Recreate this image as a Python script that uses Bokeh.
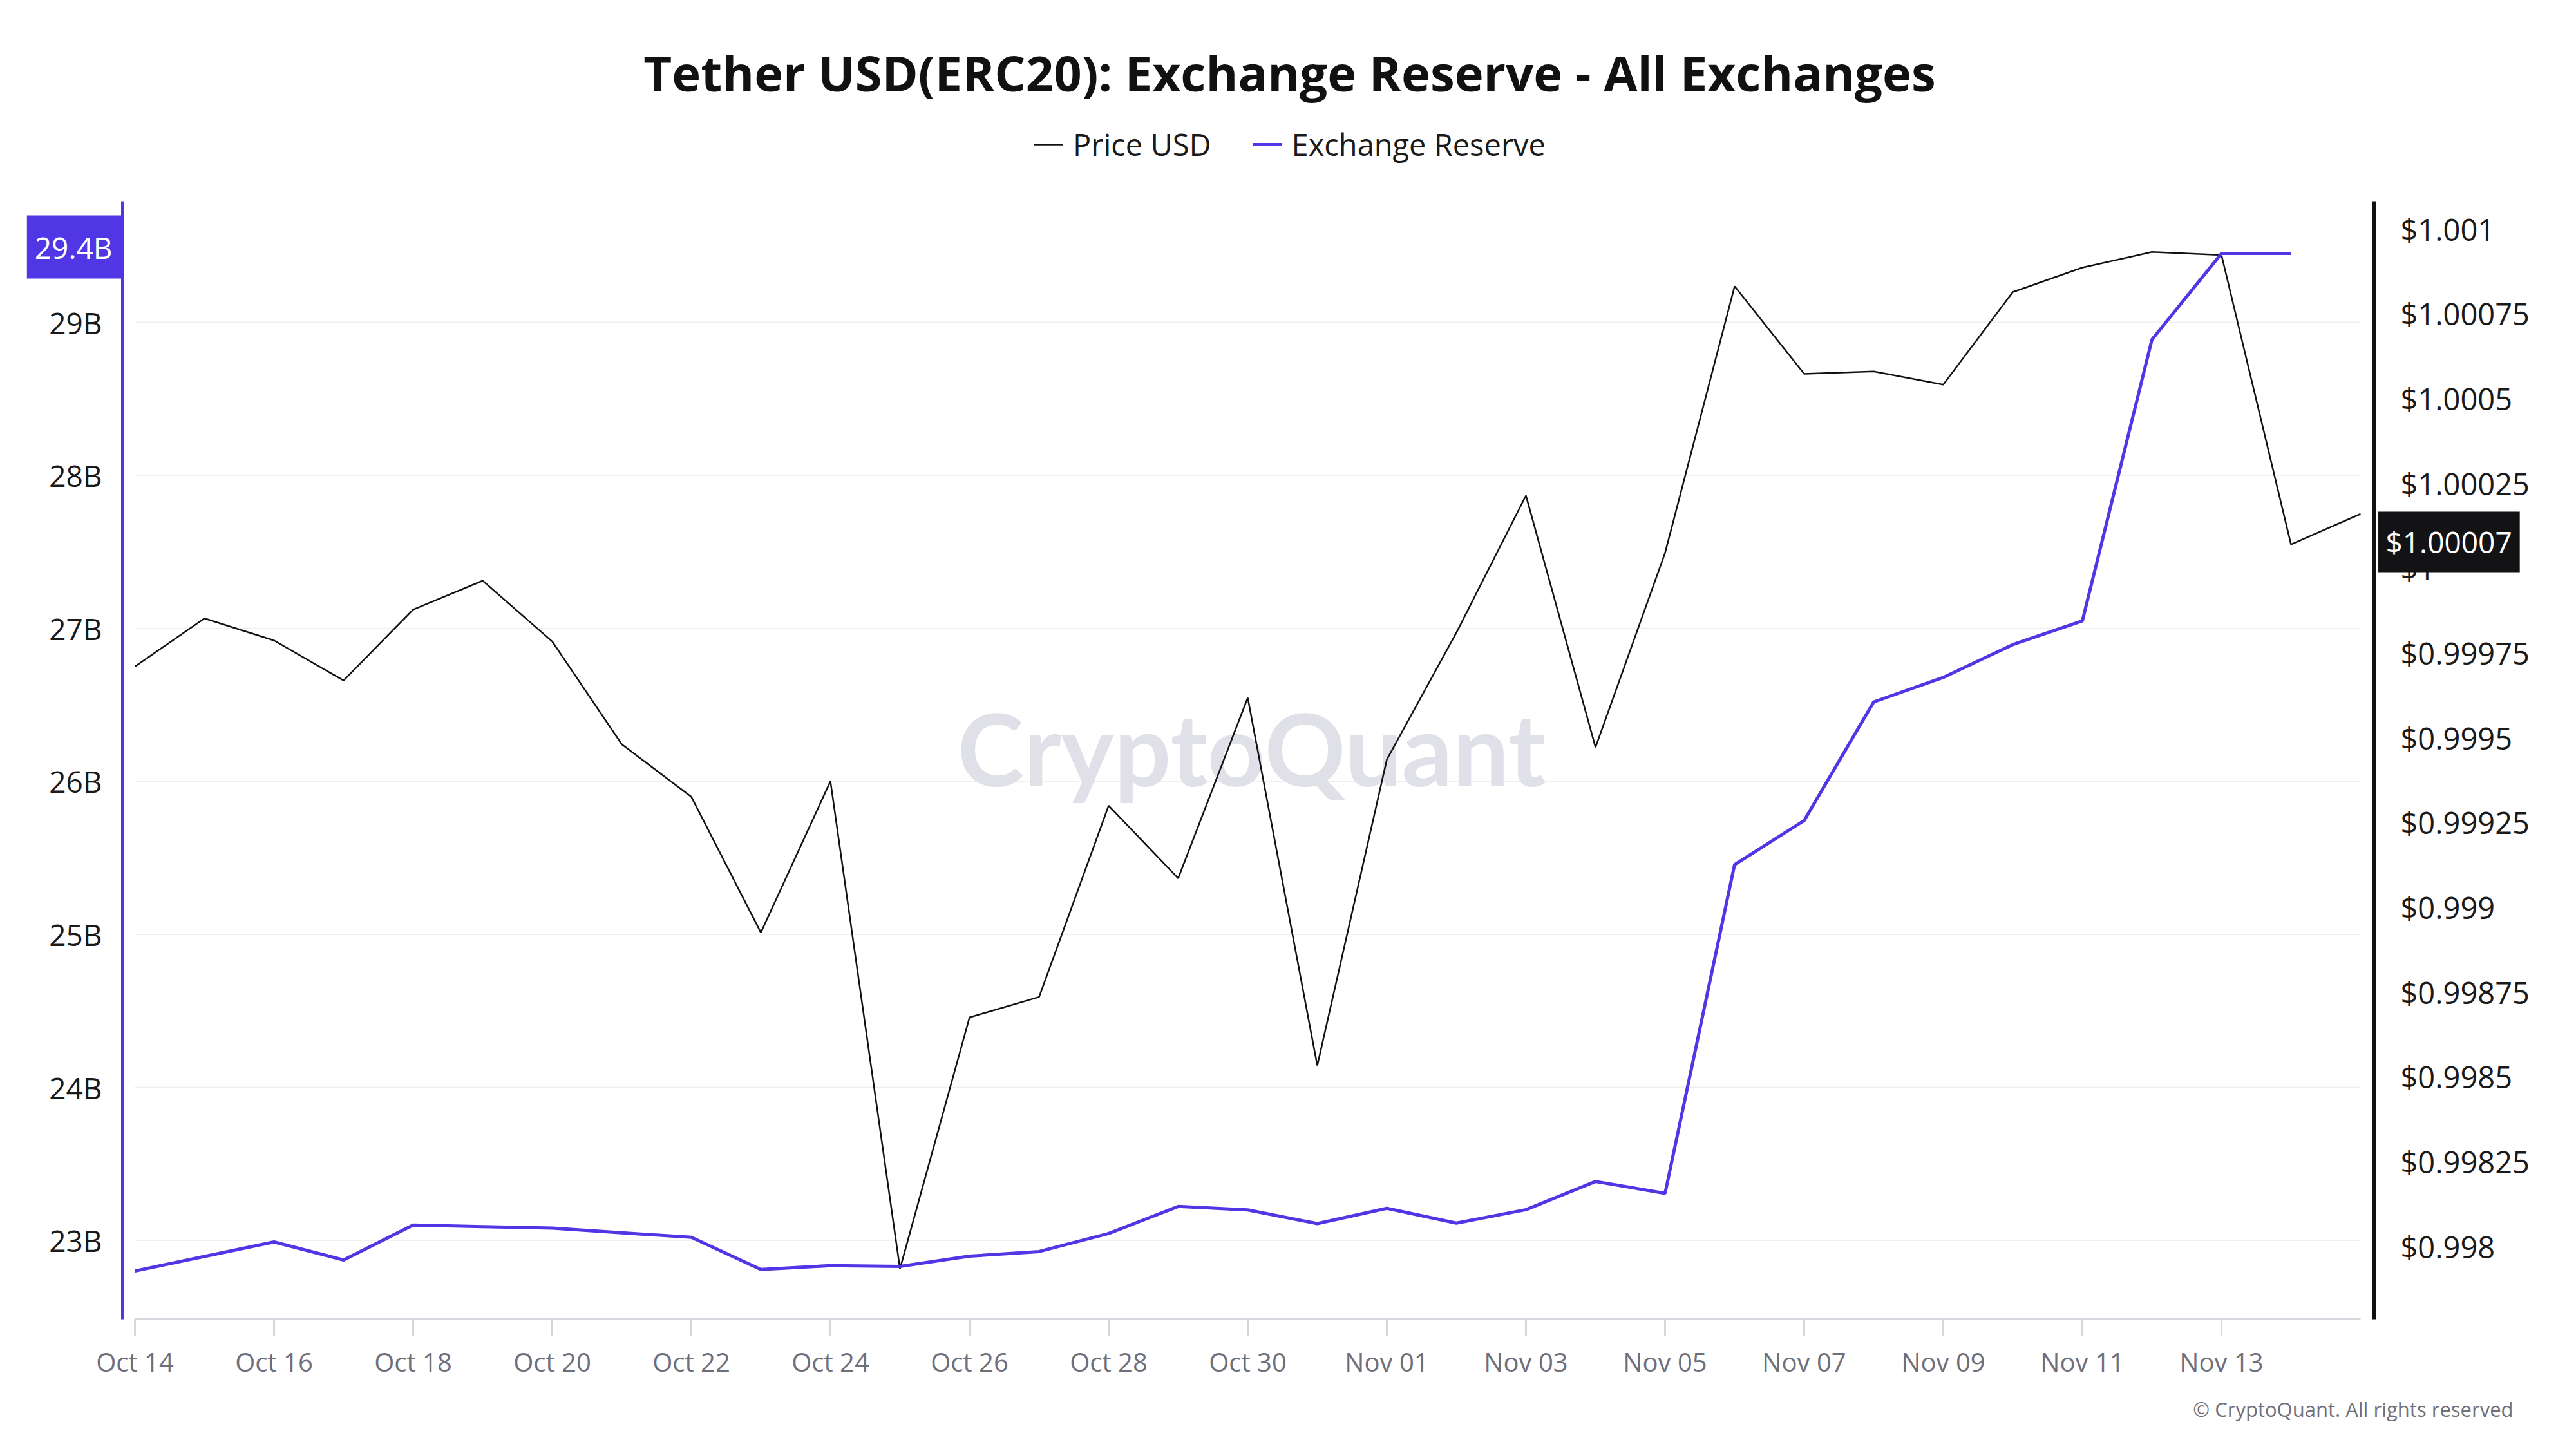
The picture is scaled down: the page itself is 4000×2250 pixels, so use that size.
from datetime import datetime, timedelta
import math
from bokeh.plotting import figure
from bokeh.models import (Range1d, LinearAxis, FixedTicker, PrintfTickFormatter,
                          CustomJSTickFormatter, DatetimeTickFormatter, Label,
                          Legend, LegendItem)
from bokeh.embed import file_html
from bokeh.resources import INLINE

# ---------------- data ----------------
dates = ["2024-10-14", "2024-10-15", "2024-10-16", "2024-10-17", "2024-10-18",
         "2024-10-19", "2024-10-20", "2024-10-21", "2024-10-22", "2024-10-23",
         "2024-10-24", "2024-10-25", "2024-10-26", "2024-10-27", "2024-10-28",
         "2024-10-29", "2024-10-30", "2024-10-31", "2024-11-01", "2024-11-02",
         "2024-11-03", "2024-11-04", "2024-11-05", "2024-11-06", "2024-11-07",
         "2024-11-08", "2024-11-09", "2024-11-10", "2024-11-11", "2024-11-12",
         "2024-11-13", "2024-11-14", "2024-11-15"]

price_usd = [0.99971, 0.999852, 0.999787, 0.999669, 0.999878, 0.999963, 0.999784,
             0.999481, 0.999326, 0.998926, 0.999372, 0.997935, 0.998676, 0.998736,
             0.9993, 0.999086, 0.999618, 0.998534, 0.999436, 0.99981, 1.000214,
             0.999472, 1.000045, 1.000831, 1.000573, 1.00058, 1.000541, 1.000814,
             1.000886, 1.000932, 1.000923, 1.00007, 1.00016]

# exchange reserve in billions USDT (Oct 14 .. Nov 14)
exchange_reserve = [22.80, 22.895, 22.99, 22.872, 23.10, 23.09, 23.08, 23.05,
                    23.02, 22.81, 22.835, 22.83, 22.897, 22.927, 23.045, 23.222,
                    23.199, 23.11, 23.21, 23.113, 23.201, 23.385, 23.308, 25.456,
                    25.744, 26.519, 26.679, 26.894, 27.049, 28.887, 29.45, 29.45]

reserve_ticks = [23, 24, 25, 26, 27, 28, 29]
price_ticks = [0.998, 0.99825, 0.9985, 0.99875, 0.999, 0.99925, 0.9995, 0.99975,
               1.0, 1.00025, 1.0005, 1.00075, 1.001]

title_text = "Tether USD(ERC20): Exchange Reserve - All Exchanges"
watermark_text = "CryptoQuant"
copyright_text = "\u00a9 CryptoQuant. All rights reserved"

# ---------------- layout constants (figure px) ----------------
PURPLE = "#5036E4"
FONT = "Open Sans"
W, H = 3984, 2234
PX_DAY = 108.0          # px per day
X0 = 209                # x of first date
RES_Y29, RES_PX = 500, 237.6      # y of 29B, px per 1B
PR_Y1001, PR_PX = 355, 1.8983e-6  # y of $1.001, price per px

xd = [datetime.strptime(d, "%Y-%m-%d") for d in dates]
xr = xd[:len(exchange_reserve)]

def ms(d):
    return (d - datetime(1970, 1, 1)).total_seconds() * 1000.0

def day_at(px):
    return xd[0] + timedelta(days=(px - X0) / PX_DAY)

def res_at(py):
    return 29 + (RES_Y29 - py) / RES_PX

def pr_at(py):
    return 1.001 + (PR_Y1001 - py) * PR_PX

FRAME_L, FRAME_R, FRAME_T, FRAME_B = 190, 3686, 312, 2048

p = figure(width=W, height=H, output_backend="svg", toolbar_location=None,
           x_axis_type="datetime",
           x_range=Range1d(day_at(0), day_at(W)),
           y_range=Range1d(res_at(H), res_at(0)),
           min_border=0, min_border_left=0, min_border_right=0,
           min_border_top=0, min_border_bottom=0)
p.extra_y_ranges = {"price": Range1d(pr_at(H), pr_at(0))}
p.outline_line_color = None
p.background_fill_color = "white"
p.border_fill_color = "white"
p.grid.visible = False

y_bottom = res_at(FRAME_B)
y_top = res_at(FRAME_T)

# horizontal grid lines, spanning the data dates
p.segment(x0=[xd[0]] * len(reserve_ticks), x1=[xd[-1]] * len(reserve_ticks),
          y0=reserve_ticks, y1=reserve_ticks, line_color="#f0f0f2", line_width=2,
          level="underlay")

# x axis
xa = p.xaxis[0]
xa.fixed_location = y_bottom
xa.ticker = FixedTicker(ticks=[ms(d) for d in xd[:31:2]])
fmt = "%b %d"
xa.formatter = DatetimeTickFormatter(days=fmt, months=fmt, hours=fmt, years=fmt,
                                     hourmin=fmt, minutes=fmt)
xa.bounds = (ms(xd[0]), ms(xd[-1]))
xa.axis_line_color = "#d6d6de"
xa.axis_line_width = 3
xa.major_tick_line_color = "#d6d6de"
xa.major_tick_line_width = 3
xa.major_tick_out = 26
xa.major_tick_in = 0
xa.minor_tick_line_color = None
xa.major_label_text_font = FONT
xa.major_label_text_font_size = "40px"
xa.major_label_text_color = "#6f6f7b"
xa.major_label_standoff = 12

# left axis (reserve)
ya = p.yaxis[0]
ya.fixed_location = ms(day_at(FRAME_L))
ya.bounds = (y_bottom, y_top)
ya.ticker = FixedTicker(ticks=reserve_ticks)
ya.formatter = PrintfTickFormatter(format="%dB")
ya.axis_line_color = PURPLE
ya.axis_line_width = 5
ya.major_tick_line_color = None
ya.minor_tick_line_color = None
ya.major_label_text_font = FONT
ya.major_label_text_font_size = "46px"
ya.major_label_text_color = "#1a1a1a"
ya.major_label_standoff = 26

# right axis (price)
ra = LinearAxis(y_range_name="price")
ra.fixed_location = ms(day_at(FRAME_R))
ra.bounds = (pr_at(FRAME_B), pr_at(FRAME_T))
ra.ticker = FixedTicker(ticks=price_ticks)
ra.formatter = CustomJSTickFormatter(code="return '$' + parseFloat(tick.toFixed(5)).toString();")
ra.axis_line_color = "#111111"
ra.axis_line_width = 5
ra.major_tick_line_color = None
ra.minor_tick_line_color = None
ra.major_label_text_font = FONT
ra.major_label_text_font_size = "47px"
ra.major_label_text_color = "#1a1a1a"
ra.major_label_standoff = 35
p.add_layout(ra, "right")

# lines
price_r = p.line(xd, price_usd, y_range_name="price", line_color="#111111", line_width=2.5)
res_r = p.line(xr, exchange_reserve, line_color=PURPLE, line_width=5)

# watermark
p.add_layout(Label(x=1943, y=H - 1160, x_units="screen", y_units="screen", text=watermark_text,
                   text_align="center", text_baseline="middle", text_font="Lato",
                   text_font_style="bold", text_font_size="156px", text_color="#e0e0e8",
                   level="underlay"))

# title
p.add_layout(Label(x=2002, y=H - 112, x_units="screen", y_units="screen", text=title_text,
                   text_align="center", text_baseline="middle", text_font=FONT,
                   text_font_style="bold", text_font_size="76px", text_color="#111111"))

# legend
legend = Legend(items=[LegendItem(label="Price USD", renderers=[price_r]),
                       LegendItem(label="Exchange Reserve", renderers=[res_r])],
                location=(1605, H - 256), orientation="horizontal",
                label_text_font=FONT, label_text_font_size="47px",
                label_text_color="#1a1a1a", glyph_width=46, glyph_height=46,
                label_height=46, label_standoff=15, spacing=64, padding=0, margin=0,
                border_line_color=None, background_fill_alpha=0)
p.add_layout(legend, "center")

# last value badges
last_res = exchange_reserve[-1]
p.add_layout(Label(x=FRAME_L - 2, y=last_res, y_offset=10, x_units="screen", y_units="data",
                   text=f"{math.floor(last_res * 10) / 10}B",
                   text_align="right", text_baseline="middle", text_font=FONT,
                   text_font_size="46px", text_color="white",
                   background_fill_color=PURPLE,
                   padding=dict(left=12, right=14, top=18, bottom=18)))
last_price = price_usd[-2]
p.add_layout(Label(x=FRAME_R + 6, y=last_price, y_offset=4, x_units="screen", y_units="data",
                   y_range_name="price",
                   text="$" + f"{last_price:.5f}",
                   text_align="left", text_baseline="middle", text_font=FONT,
                   text_font_size="46px", text_color="white",
                   background_fill_color="#131316",
                   padding=dict(left=12, right=12, top=16, bottom=16)))

# copyright
p.add_layout(Label(x=3902, y=H - 2187, x_units="screen", y_units="screen", text=copyright_text,
                   text_align="right", text_baseline="middle", text_font=FONT,
                   text_font_size="31px", text_color="#70707a"))

open("out.html", "w").write(file_html(p, INLINE))
